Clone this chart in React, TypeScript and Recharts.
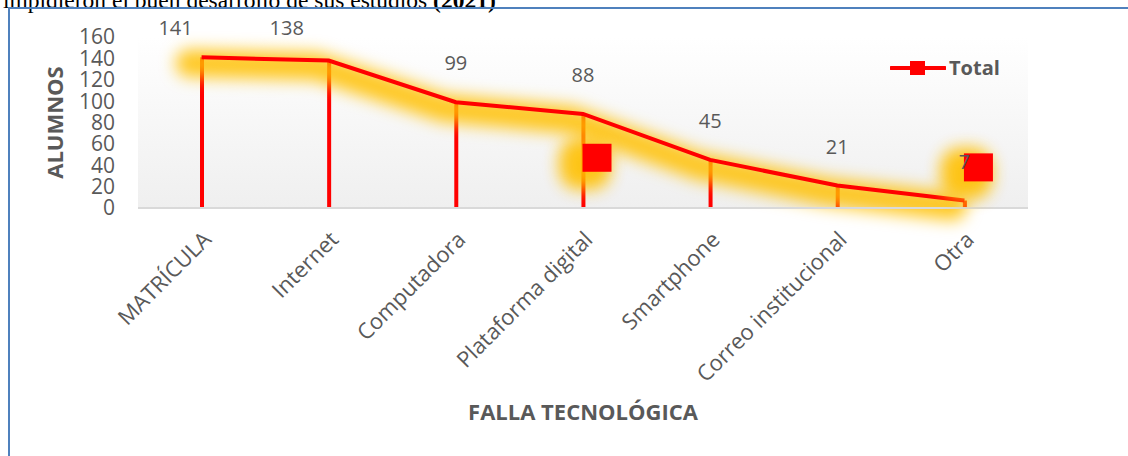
import React from "react";
import {
  ComposedChart,
  Line,
  Bar,
  XAxis,
  YAxis,
  CartesianGrid,
} from "recharts";

// categories and values
const categories = [
  "MATRÍCULA",
  "Internet",
  "Computadora",
  "Plataforma digital",
  "Smartphone",
  "Correo institucional",
  "Otra",
];
const totals = [141, 138, 99, 88, 45, 21, 7];
// stray square markers that sit off the line in the original
const markerValues: (number | null)[] = [null, null, null, 47, null, null, 38];
const yTicks = [0, 20, 40, 60, 80, 100, 120, 140, 160];

// a couple of data labels were dragged aside in the original
const labelNudge: Record<number, { dx: number; dy: number }> = {
  0: { dx: -26, dy: 10 },
  1: { dx: -42, dy: 6 },
};

const data = categories.map((name, i) => ({
  name,
  total: totals[i],
  marker: markerValues[i],
}));

const FONT = "'Open Sans', sans-serif";
const GRAY = "#595959";
const RED = "#ff0000";
const GOLD = "#ffc000";

const XTick = (props: any) => {
  const { x, y, payload } = props;
  const tx = x + 11;
  const ty = y + 33;
  return (
    <text
      x={tx}
      y={ty}
      transform={`rotate(-45 ${tx} ${ty})`}
      textAnchor="end"
      fill={GRAY}
      fontSize={22}
      fontFamily={FONT}
    >
      {payload.value}
    </text>
  );
};

const renderLabel = (props: any) => {
  const { x, y, value, index } = props;
  const n = labelNudge[index] || { dx: 0, dy: 0 };
  return (
    <text
      key={`lbl-${index}`}
      x={x + n.dx}
      y={y - 32 + n.dy}
      textAnchor="middle"
      fill={GRAY}
      fontSize={20}
      fontFamily={FONT}
    >
      {value}
    </text>
  );
};

const GlowDot = (props: any) => {
  const { cx, cy, payload, index } = props;
  if (payload.marker == null || cy == null) return <g key={`gd-${index}`} />;
  const x = cx + 14;
  return (
    <rect
      key={`gd-${index}`}
      x={x - 26}
      y={cy - 26}
      width={52}
      height={52}
      rx={20}
      fill={GOLD}
      opacity={0.9}
      filter="url(#glow)"
    />
  );
};

const SquareDot = (props: any) => {
  const { cx, cy, payload, index } = props;
  if (payload.marker == null || cy == null) return <g key={`sq-${index}`} />;
  const x = cx + 14;
  return (
    <rect
      key={`sq-${index}`}
      x={x - 14.5}
      y={cy - 14}
      width={29}
      height={28}
      fill={RED}
    />
  );
};

export default function App() {
  return (
    <div
      style={{
        position: "fixed",
        left: 0,
        top: 0,
        width: 1128,
        height: 456,
        overflow: "hidden",
        background: "#fff",
      }}
    >
      <div
        style={{
          position: "absolute",
          left: 3,
          top: -11,
          fontFamily: "'Liberation Serif', 'Times New Roman', serif",
          fontSize: 23.5,
          lineHeight: "23px",
          whiteSpace: "nowrap",
          color: "#000",
        }}
      >
        impidieron el buen desarrollo de sus estudios <b>(2021)</b>
      </div>
      <div
        style={{
          position: "absolute",
          left: 8,
          top: 7,
          width: 1200,
          height: 500,
          borderLeft: "2px solid #4f81bd",
          borderTop: "2px solid #4f81bd",
        }}
      />
      <div style={{ position: "absolute", left: 0, top: 0 }}>
        <ComposedChart
          width={1128}
          height={456}
          data={data}
          margin={{ top: 37, right: 100, bottom: 48, left: 78 }}
        >
          <defs>
            <linearGradient id="plotBg" x1="0" y1="0" x2="0" y2="1">
              <stop offset="0%" stopColor="#ffffff" />
              <stop offset="100%" stopColor="#efefef" />
            </linearGradient>
            <filter
              id="glow"
              filterUnits="userSpaceOnUse"
              x="0"
              y="0"
              width="1128"
              height="456"
            >
              <feGaussianBlur stdDeviation="8" />
              <feOffset dx="-12" dy="6" />
            </filter>
          </defs>
          <CartesianGrid
            horizontal={false}
            vertical={false}
            fill="url(#plotBg)"
          />
          <XAxis
            dataKey="name"
            height={200}
            interval={0}
            tickSize={0}
            tickMargin={0}
            tickLine={false}
            axisLine={{ stroke: "#d9d9d9", strokeWidth: 2 }}
            tick={<XTick />}
            label={({ viewBox }: any) => (
              <text
                x={viewBox.x + viewBox.width / 2}
                y={viewBox.y + 212}
                textAnchor="middle"
                fill={GRAY}
                fontSize={22}
                fontWeight={700}
                fontFamily={FONT}
              >
                FALLA TECNOLÓGICA
              </text>
            )}
          />
          <YAxis
            width={60}
            domain={[0, 160]}
            ticks={yTicks}
            interval={0}
            tickSize={0}
            tickMargin={23}
            tickLine={false}
            axisLine={false}
            tick={{ fill: GRAY, fontSize: 21, fontFamily: FONT }}
            label={({ viewBox }: any) => {
              const x = viewBox.x - 24;
              const y = viewBox.y + viewBox.height / 2;
              return (
                <text
                  x={x}
                  y={y}
                  transform={`rotate(-90 ${x} ${y})`}
                  textAnchor="middle"
                  dominantBaseline="central"
                  fill={GRAY}
                  fontSize={22}
                  fontWeight={700}
                  fontFamily={FONT}
                >
                  ALUMNOS
                </text>
              );
            }}
          />
          <Line
            dataKey="total"
            stroke={GOLD}
            strokeWidth={28}
            strokeOpacity={0.85}
            strokeLinejoin="round"
            strokeLinecap="round"
            filter="url(#glow)"
            dot={false}
            activeDot={false}
            isAnimationActive={false}
          />
          <Line
            dataKey="marker"
            stroke="none"
            dot={<GlowDot />}
            activeDot={false}
            isAnimationActive={false}
          />
          <Bar dataKey="total" barSize={4} fill={RED} isAnimationActive={false} />
          <Line
            dataKey="total"
            stroke={RED}
            strokeWidth={4}
            dot={false}
            activeDot={false}
            label={renderLabel}
            isAnimationActive={false}
          />
          <Line
            dataKey="marker"
            stroke="none"
            dot={<SquareDot />}
            activeDot={false}
            isAnimationActive={false}
          />
        </ComposedChart>
      </div>
      <div
        style={{
          position: "absolute",
          left: 890,
          top: 54,
          display: "flex",
          alignItems: "center",
          fontFamily: FONT,
          fontWeight: 700,
          fontSize: 20,
          color: GRAY,
        }}
      >
        <svg width={56} height={24} style={{ marginRight: 3 }}>
          <line x1={1} y1={12} x2={55} y2={12} stroke={RED} strokeWidth={4} strokeLinecap="round" />
          <rect x={20} y={5} width={15} height={14} fill={RED} />
        </svg>
        <span>Total</span>
      </div>
    </div>
  );
}
